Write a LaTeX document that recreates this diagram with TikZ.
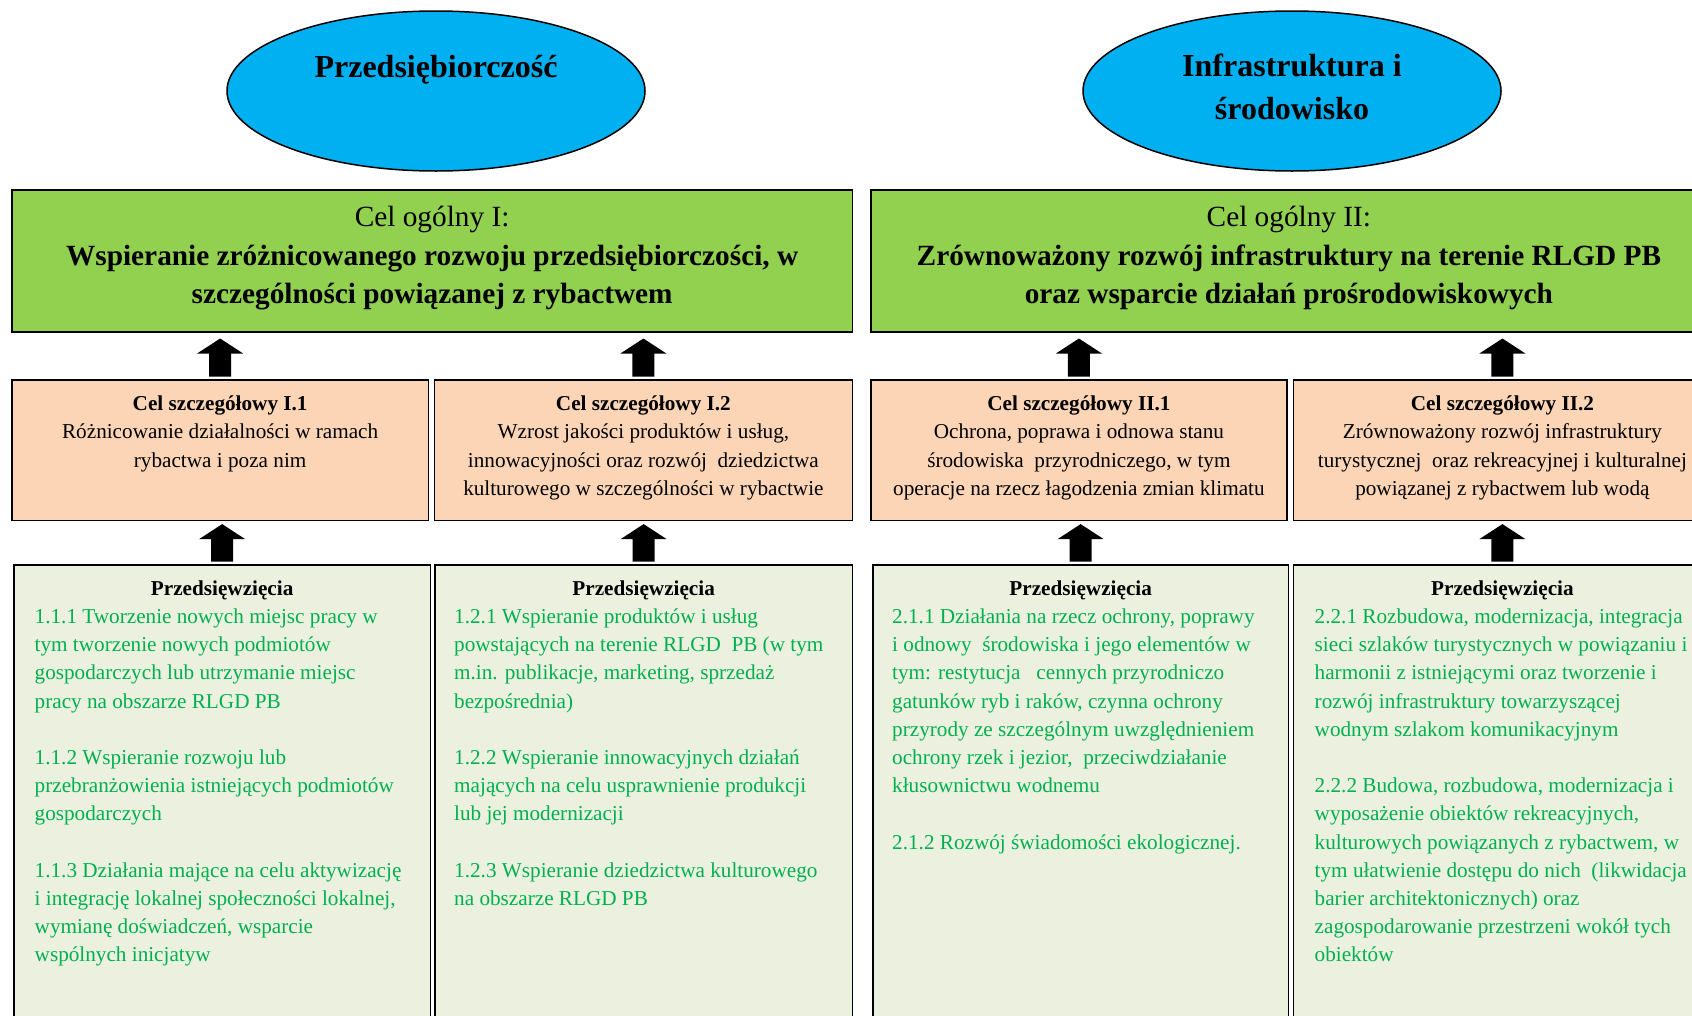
\documentclass[tikz,border=0pt]{standalone}
\usepackage{fontspec}
\setmainfont{Liberation Serif}
\usetikzlibrary{shapes.geometric,calc}
\definecolor{ovalblue}{RGB}{0,176,240}
\definecolor{goalgreen}{RGB}{146,208,80}
\definecolor{subpeach}{RGB}{251,213,181}
\definecolor{actbg}{RGB}{235,241,222}
\definecolor{acttxt}{RGB}{0,176,80}
\tikzset{
  ovalshape/.style={ellipse, draw=black, line width=1.5pt, fill=ovalblue, inner sep=0pt, minimum width=418pt, minimum height=160pt},
  ovaltext/.style={anchor=north, inner sep=0pt, align=center, font=\fontsize{32}{43.3}\selectfont\bfseries},
  goalbox/.style={rectangle, draw=black, line width=1.8pt, fill=goalgreen, anchor=north west, inner sep=0pt, minimum height=142pt},
  goaltext/.style={anchor=north, inner sep=0pt, align=center, font=\fontsize{29.3}{38.3}\selectfont},
  subbox/.style={rectangle, draw=black, line width=1.8pt, fill=subpeach, anchor=north west, inner sep=0pt, minimum height=140.5pt},
  subtext/.style={anchor=north, inner sep=0pt, align=center, font=\fontsize{21.2}{28.4}\selectfont},
  actbox/.style={rectangle, draw=black, line width=1.8pt, fill=actbg, anchor=north west, inner sep=0pt, minimum height=480pt},
  acthead/.style={anchor=north, inner sep=0pt, align=center, font=\fontsize{21.2}{28.2}\selectfont\bfseries},
  acttext/.style={anchor=north west, inner sep=0pt, align=left, text=acttxt, font=\fontsize{21.2}{28.2}\selectfont}
}
\newcommand\blockup[3]{%
  \fill[black] let \p1=(#1.north), \p2=(#2.south) in
   (\x1-11pt,\y1+2.3pt) -- (\x1-11pt,\y2-#3pt-15pt) -- (\x1-23pt,\y2-#3pt-15pt) --
   (\x1,\y2-#3pt) -- (\x1+23pt,\y2-#3pt-15pt) -- (\x1+11pt,\y2-#3pt-15pt) --
   (\x1+11pt,\y1+2.3pt) -- cycle;}
\begin{document}
\begin{tikzpicture}[x=1pt,y=-1pt]
\useasboundingbox (0,0) rectangle (1692,1015);
\clip (0,0) rectangle (1692,1015);
\fill[white] (0,0) rectangle (1692,1015);

% ovals
\node[ovalshape] (e1) at (436,91) {};
\node[ovalshape] (e2) at (1292,91) {};
\node[ovaltext] (e1t) at ($(e1.center)+(0,-44.3)$) {\strut Przedsiębiorczość};
\node[ovaltext] (e2t) at ($(e2.center)+(0,-45)$) {\strut Infrastruktura i\\ środowisko};

% general goals
\node[goalbox, minimum width=840.5pt] (g1) at (11,189) {};
\node[goalbox, minimum width=840pt] (g2) at (870,189) {};
\node[goaltext] (g1t) at ($(g1.north)+(0,10.9)$) {\strut Cel ogólny I:\\ \textbf{Wspieranie zróżnicowanego rozwoju przedsiębiorczości, w}\\ \textbf{szczególności powiązanej z rybactwem}};
\node[goaltext] (g2t) at ($(g2.north)+(-2,10.9)$) {\strut Cel ogólny II:\\ \textbf{Zrównoważony rozwój infrastruktury na terenie RLGD PB}\\ \textbf{oraz wsparcie działań prośrodowiskowych}};

% specific goals
\node[subbox, minimum width=416.5pt] (o1) at (11,379) {};
\node[subbox, minimum width=418pt] (o2) at (433.5,379) {};
\node[subbox, minimum width=416pt] (o3) at (870,379) {};
\node[subbox, minimum width=418pt] (o4) at (1292.5,379) {};
\node[subtext] (o1t) at ($(o1.north)+(0,11.5)$) {\strut\textbf{Cel szczegółowy I.1}\\ Różnicowanie działalności w ramach\\ rybactwa i poza nim};
\node[subtext] (o2t) at ($(o2.north)+(0,11.5)$) {\strut\textbf{Cel szczegółowy I.2}\\ Wzrost jakości produktów i usług,\\ innowacyjności oraz rozwój\ \ dziedzictwa\\ kulturowego w szczególności w rybactwie};
\node[subtext] (o3t) at ($(o3.north)+(0,11.5)$) {\strut\textbf{Cel szczegółowy II.1}\\ Ochrona, poprawa i odnowa stanu\\ środowiska\ \ przyrodniczego, w tym\\ operacje na rzecz łagodzenia zmian klimatu};
\node[subtext] (o4t) at ($(o4.north)+(0,11.5)$) {\strut\textbf{Cel szczegółowy II.2}\\ Zrównoważony rozwój infrastruktury\\ turystycznej\ \ oraz rekreacyjnej i kulturalnej\\ powiązanej z rybactwem lub wodą};

% actions
\node[actbox, minimum width=416.5pt] (b1) at (13,564) {};
\node[actbox, minimum width=417.5pt] (b2) at (434,564) {};
\node[actbox, minimum width=415.5pt] (b3) at (872,564) {};
\node[actbox, minimum width=418pt] (b4) at (1292.5,564) {};
\foreach \b in {b1,b2,b3,b4}{
  \node[acthead] (\b h) at ($(\b.north)+(0,11.6)$) {\strut Przedsięwzięcia};
}
\node[acttext] (b1t) at ($(b1.north west)+(21.5,39.5)$) {\strut 1.1.1 Tworzenie nowych miejsc pracy w\\ tym tworzenie nowych podmiotów\\ gospodarczych lub utrzymanie miejsc\\ pracy na obszarze RLGD PB\\[28.2pt]
1.1.2 Wspieranie rozwoju lub\\ przebranżowienia istniejących podmiotów\\ gospodarczych\\[28.2pt]
1.1.3 Działania mające na celu aktywizację\\ i integrację lokalnej społeczności lokalnej,\\ wymianę doświadczeń, wsparcie\\ wspólnych inicjatyw};
\node[acttext] (b2t) at ($(b2.north west)+(20,39.5)$) {\strut 1.2.1 Wspieranie produktów i usług\\ powstających na terenie RLGD\ \ PB (w tym\\ m.in. publikacje, marketing, sprzedaż\\ bezpośrednia)\\[28.2pt]
1.2.2 Wspieranie innowacyjnych działań\\ mających na celu usprawnienie produkcji\\ lub jej modernizacji\\[28.2pt]
1.2.3 Wspieranie dziedzictwa kulturowego\\ na obszarze RLGD PB};
\node[acttext] (b3t) at ($(b3.north west)+(20,39.5)$) {\strut 2.1.1 Działania na rzecz ochrony, poprawy\\ i odnowy\ \ środowiska i jego elementów w\\ tym: restytucja\ \ \ cennych przyrodniczo\\ gatunków ryb i raków, czynna ochrony\\ przyrody ze szczególnym uwzględnieniem\\ ochrony rzek i jezior,\ \ przeciwdziałanie\\ kłusownictwu wodnemu\\[28.2pt]
2.1.2 Rozwój świadomości ekologicznej.};
\node[acttext] (b4t) at ($(b4.north west)+(22,39.5)$) {\strut 2.2.1 Rozbudowa, modernizacja, integracja\\ sieci szlaków turystycznych w powiązaniu i\\ harmonii z istniejącymi oraz tworzenie i\\ rozwój infrastruktury towarzyszącej\\ wodnym szlakom komunikacyjnym\\[28.2pt]
2.2.2 Budowa, rozbudowa, modernizacja i\\ wyposażenie obiektów rekreacyjnych,\\ kulturowych powiązanych z rybactwem, w\\ tym ułatwienie dostępu do nich\ \ (likwidacja\\ barier architektonicznych) oraz\\ zagospodarowanie przestrzeni wokół tych\\ obiektów};

% block arrows
\blockup{o1}{g1}{5.7}
\blockup{o2}{g1}{5.7}
\blockup{o3}{g2}{5.7}
\blockup{o4}{g2}{5.7}
\blockup{b1}{o1}{2.8}
\blockup{b2}{o2}{2.8}
\blockup{b3}{o3}{2.8}
\blockup{b4}{o4}{2.8}
\end{tikzpicture}
\end{document}
